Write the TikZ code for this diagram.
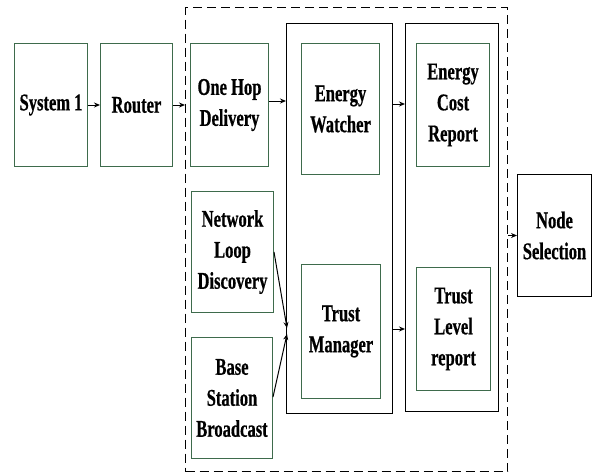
\documentclass[tikz,border=0pt]{standalone}
\usepackage{fontspec}
\setmainfont{Liberation Serif}[FakeStretch=0.69,BoldFeatures={FakeBold=0.6}]
\usetikzlibrary{arrows.meta}
\definecolor{boxgreen}{HTML}{3E6B4C}
\begin{document}
\begin{tikzpicture}[x=1pt,y=-1pt,
  gbox/.style={draw=boxgreen,line width=1pt,inner sep=0pt,anchor=north west,align=center,
    font=\bfseries\fontsize{24}{31}\selectfont},
  kbox/.style={draw=black,line width=1pt,inner sep=0pt,anchor=north west,align=center,
    font=\bfseries\fontsize{24}{31}\selectfont},
  arr/.style={-{Stealth[length=6pt,width=5pt]},line width=1pt}]
\useasboundingbox (0,0) rectangle (594,472);
\node[draw=black,line width=1.3pt,dash pattern=on 9pt off 5pt,minimum width=322pt,minimum height=464pt,inner sep=0pt,anchor=north west] (dash) at (185,7) {};
\node[gbox,minimum width=73pt,minimum height=123pt] (sys) at (14,43) {System\,1};
\node[gbox,minimum width=72pt,minimum height=123pt] (rtr) at (100,43) {Router};
\node[gbox,minimum width=78pt,minimum height=123pt] (ohd) at (190,43) {One Hop\\Delivery};
\node[gbox,minimum width=82pt,minimum height=121pt] (nld) at (191,191) {Network\\Loop\\Discovery};
\node[gbox,minimum width=81pt,minimum height=121pt] (bsb) at (191,337) {Base\\Station\\Broadcast};
\node[kbox,minimum width=106pt,minimum height=390pt] (big) at (286,23) {};
\node[gbox,minimum width=78pt,minimum height=131pt] (ew) at (301,43) {Energy\\Watcher};
\node[gbox,minimum width=79pt,minimum height=134pt] (tm) at (301,264) {Trust\\Manager};
\node[kbox,minimum width=93pt,minimum height=388pt] (rep) at (405,23) {};
\node[gbox,minimum width=73pt,minimum height=123pt] (ecr) at (416,43) {Energy\\Cost\\Report};
\node[gbox,minimum width=74pt,minimum height=123pt] (tlr) at (416,267) {Trust\\Level\\report};
\node[kbox,minimum width=74pt,minimum height=122pt] (sel) at (517,174) {Node\\Selection};
\coordinate (j) at (287,331);
\draw[arr] (sys) -- (rtr);
\draw[arr] (rtr.east) -- (rtr.east -| dash.west);
\draw[arr] ([yshift=4pt]ohd.east) -- ([yshift=4pt]ohd.east -| big.west);
\draw[arr] (big.east |- 0,104) -- (rep.west |- 0,104);
\draw[arr] (big.east |- 0,329) -- (rep.west |- 0,329);
\draw[arr] (nld.east |- 0,252) -- ([yshift=3pt]j);
\draw[arr] (bsb.east |- 0,397) -- ([yshift=-3pt]j);
\draw[arr] (sel.west -| dash.east) -- (sel.west);
\end{tikzpicture}
\end{document}
